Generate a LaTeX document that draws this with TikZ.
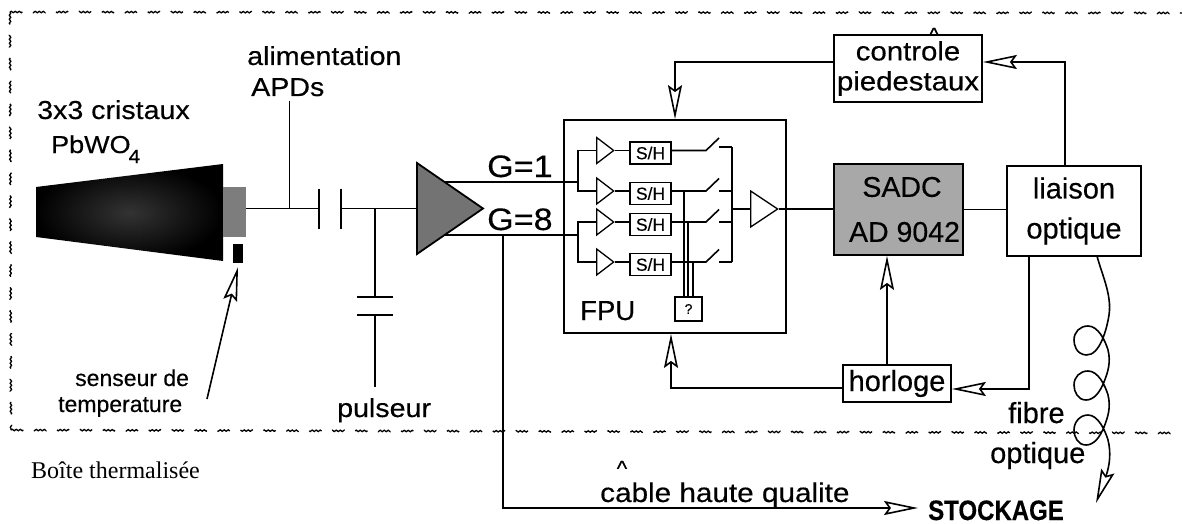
\documentclass[tikz,border=0pt]{standalone}
\usepackage{fontspec}
\setmainfont[FakeBold=0.35]{Liberation Sans}
\newfontfamily\widefam[FakeStretch=1.1, FakeBold=0.35]{Liberation Sans}
\newfontfamily\notefam{Liberation Serif}
\usetikzlibrary{shapes.geometric, arrows.meta, decorations.pathmorphing}
\definecolor{greyfill}{RGB}{168,168,168}
\definecolor{apdfill}{RGB}{125,125,125}
\definecolor{hatchfill}{RGB}{115,115,115}
\tikzset{
    wire/.style={draw=black, line width=1.6pt},
    boxnode/.style={draw=black, line width=1.8pt, fill=white, inner sep=0pt, align=center},
    plainlab/.style={inner sep=0pt, anchor=base, font=\fontsize{29}{30}\selectfont},
    widelab/.style={inner sep=0pt, anchor=base, font=\widefam\fontsize{26}{28}\selectfont},
    smallamp/.style={draw=black, line width=1.3pt, fill=white, isosceles triangle, isosceles triangle stretches, inner sep=0pt, minimum width=26pt, minimum height=17pt, anchor=west},
    shbox/.style={boxnode, line width=1.3pt, minimum width=41pt, minimum height=22pt, font=\fontsize{17.5}{18}\selectfont},
    openhead/.style={-{Stealth[open, fill=white, length=34pt, width=14pt, inset=5pt]}},
    boxedge/.style={decorate, decoration={snake, amplitude=.7pt, segment length=4pt}, line width=1.3pt, dash pattern=on 15pt off 13pt}
}
\begin{document}
\begin{tikzpicture}[x=1pt, y=-1pt]
    \useasboundingbox (0,0) rectangle (1182,524);
    % thermal box outline
    \coordinate (boxa) at (10,12);
    \coordinate (boxb) at (1182,13);
    \coordinate (boxc) at (11,430);
    \coordinate (boxd) at (1178,433);
    \draw[boxedge] (boxa) -- (boxb);
    \draw[boxedge] (boxa) -- (boxc);
    \draw[boxedge] (boxc) -- (boxd);

    % crystal, photodiode, temperature sensor
    \shade[inner color=black!80, outer color=black] (36,187) -- (223,164) -- (223,261) -- (36,237) -- cycle;
    \node[fill=apdfill, inner sep=0pt, minimum width=23pt, minimum height=50pt] (apd) at (234.5,212) {};
    \node[fill=black, inner sep=0pt, minimum width=10pt, minimum height=19pt] (sensor) at (238,253.5) {};
    \node[widelab, anchor=base west] (cristaux) at (37,119) {3x3 cristaux};
    \node[widelab, anchor=base west, font=\widefam\fontsize{24.5}{28}\selectfont] (pbwo) at (51,153) {PbWO\kern-2pt\raisebox{-10pt}{\fontsize{19}{20}\selectfont 4}};
    \node[plainlab, anchor=base west, font=\fontsize{23}{25}\selectfont] (senseur) at (75,386) {senseur de};
    \node[plainlab, anchor=base west, font=\fontsize{23}{25}\selectfont] (temper) at (58,412) {temperature};
    \coordinate (sensfoot) at (207,399);
    \draw[wire, openhead] (sensfoot) -- ([yshift=-4pt]sensor.south);

    % coupling capacitor and supply
    \coordinate (platea) at (319,208.5);
    \coordinate (plateb) at (341,208.5);
    \coordinate (supply) at (289.5,101);
    \draw[wire] (apd.east |- platea) -- (platea);
    \draw[wire] (supply) -- (supply |- platea);
    \draw[wire] ([yshift=20pt]platea) -- ([yshift=-20pt]platea);
    \draw[wire] ([yshift=20pt]plateb) -- ([yshift=-20pt]plateb);
    \node[widelab, anchor=base west] (aliment) at (247,65) {alimentation};
    \node[widelab, anchor=base west] (apds) at (251,96) {APDs};

    % pulser branch
    \coordinate (pulsetop) at (375,208.5);
    \coordinate (platec) at (375,297);
    \coordinate (plated) at (375,315);
    \coordinate (pulsefoot) at (375,387);
    \draw[wire] (pulsetop) -- (platec);
    \draw[wire] ([xshift=-18pt]platec) -- ([xshift=18pt]platec);
    \draw[wire] ([xshift=-18pt]plated) -- ([xshift=18pt]plated);
    \draw[wire] (plated) -- (pulsefoot);
    \node[widelab, anchor=base west] (pulseur) at (337,417) {pulseur};

    % preamp
    \coordinate (preb) at (417,208.5);
    \draw[wire] (plateb) -- (preb);
    \draw[black, line width=1.8pt, fill=hatchfill] (417,163) -- (483,208.5) -- (417,254) -- cycle;
    \node[widelab, anchor=base west, font=\widefam\fontsize{31}{31}\selectfont] (gone) at (487,177) {G=1};
    \node[widelab, anchor=base west, font=\widefam\fontsize{31}{31}\selectfont] (geight) at (487,230) {G=8};

    % FPU
    \node[boxnode, minimum width=222pt, minimum height=213pt] (fpu) at (675,226.5) {};
    \node[plainlab, anchor=base west, font=\fontsize{27.5}{28}\selectfont] (fputext) at (580,320) {FPU};
    \node[boxnode, line width=1.3pt, minimum width=27pt, minimum height=24pt, font=\fontsize{14}{15}\selectfont] (query) at (688.5,309) {?};
    \coordinate (gonein) at (578,182);
    \coordinate (geightin) at (578,235);
    \draw[wire] (445,182) -- (gonein);
    \draw[wire, line width=2pt] (445,235) -- (geightin);
    \foreach \row/\rowy/\contacty in {1/150.5/147, 2/191/191, 3/222/222, 4/262/262}{
        \node[smallamp] (amp\row) at (596,\rowy) {};
        \node[shbox] (sh\row) at (650.5,\rowy+2.5) {S/H};
        \coordinate (swin\row) at (706,\rowy);
        \coordinate (swout\row) at (719,\contacty);
        \coordinate (bus\row) at (732,\contacty);
        \draw[wire] (amp\row.apex) -- (amp\row.apex -| sh\row.west);
        \draw[wire] (sh\row.east |- swin\row) -- (swin\row) -- ++(13,-12.5);
        \draw[wire] (swout\row) -- (bus\row);
    }
    \draw[wire] (amp1.west) -| (gonein) |- (amp2.west);
    \draw[wire] (amp3.west) -| (geightin) |- (amp4.west);
    \draw[wire] (bus1) -- (bus4);
    \node[smallamp, minimum width=36pt, minimum height=27pt] (ampout) at (750,209) {};
    \draw[wire] (bus1 |- ampout.west) -- (ampout.west);
    \draw[wire] (query.north -| 684,0) -- (684,191);
    \draw[wire] (query.north -| 688,0) -- (688,222);
    \draw[wire] (query.north -| 693,0) -- (693,262);

    % digitiser and optical link
    \node[boxnode, fill=greyfill, minimum width=129pt, minimum height=91pt, font=\fontsize{28.5}{45}\selectfont] (sadc) at (898.5,209.5) {\hspace*{7pt}SADC\\\hspace*{12pt}AD 9042};
    \node[boxnode, minimum width=134pt, minimum height=90pt, font=\fontsize{29}{40}\selectfont] (liaison) at (1074,211) {liaison\\optique};
    \node[plainlab, font=\fontsize{22}{24}\selectfont] (ctrlhat) at (934,43) {\^{}};
    \node[boxnode, minimum width=148pt, minimum height=67pt, fill=none, font=\widefam\fontsize{26.7}{30}\selectfont] (ctrl) at (908,68.5) {controle\\piedestaux};
    \node[boxnode, minimum width=108pt, minimum height=37pt, font=\fontsize{29}{30}\selectfont] (horloge) at (897,383.5) {horloge};
    \draw[wire] (ampout.apex) -- (sadc.west |- ampout.apex);
    \draw[wire] (sadc.east |- 0,209.5) -- (liaison.west |- 0,209.5);
    \draw[wire, openhead] ([yshift=6.5pt]ctrl.west) -| (fpu.north);
    \draw[wire, openhead] ([xshift=-9pt]liaison.north) |- ([yshift=6.5pt]ctrl.east);
    \draw[wire, openhead] ([xshift=-10pt]horloge.north) -- ([xshift=-10pt]horloge.north |- sadc.south);
    \draw[wire, openhead] ([xshift=-45pt]liaison.south) |- ([yshift=-5.5pt]horloge.east);
    \draw[wire, openhead] ([yshift=-4.5pt]horloge.west) -| ([xshift=-4pt]fpu.south);

    % analog output towards storage
    \node[plainlab, anchor=base west, font=\bfseries\fontsize{24}{26}\selectfont] (stockage) at (928,520) {\scalebox{1}[1.17]{STOCKAGE}};
    \node[widelab, anchor=base west, font=\widefam\fontsize{27}{28}\selectfont] (cable) at (600,502) {cable haute qualite};
    \node[plainlab, font=\fontsize{22}{24}\selectfont] (cablehat) at (622,476) {\^{}};
    \draw[wire, openhead] (503,235) |- ([xshift=-10pt]stockage.west |- 0,508);

    % fibre
    \coordinate (fibretop) at (1097,256);
    \draw[wire] (fibretop) .. controls (1102,275) and (1112,295) .. (1109,315) .. controls (1107,328) and (1100,356) .. (1086,355) .. controls (1076,354) and (1074,345) .. (1074,340) .. controls (1074,332) and (1080,326) .. (1088,326) .. controls (1098,326) and (1105,340) .. (1108,350)
        .. controls (1111,362) and (1108,372) .. (1104,382) .. controls (1100,392) and (1094,400) .. (1086,400) .. controls (1078,400) and (1074,392) .. (1074,385) .. controls (1074,377) and (1080,371) .. (1088,371) .. controls (1098,371) and (1105,385) .. (1108,395)
        .. controls (1111,407) and (1108,417) .. (1104,427) .. controls (1100,437) and (1094,445) .. (1086,445) .. controls (1078,445) and (1074,437) .. (1074,430) .. controls (1074,422) and (1080,415) .. (1088,415) .. controls (1098,415) and (1105,430) .. (1108,440);
    \coordinate (fibremid) at (1108,440);
    \coordinate (fibreend) at (1096,503);
    \draw[wire, openhead] (fibremid) .. controls (1111,452) and (1110,465) .. (fibreend);
    \node[plainlab, anchor=base west] (fibre) at (1008,423) {fibre};
    \node[plainlab, anchor=base west] (optique) at (990,463) {optique};

    \node[inner sep=0pt, anchor=base west, font=\notefam\fontsize{24}{26}\selectfont] (boite) at (31,478) {Boîte thermalisée};
\end{tikzpicture}
\end{document}
